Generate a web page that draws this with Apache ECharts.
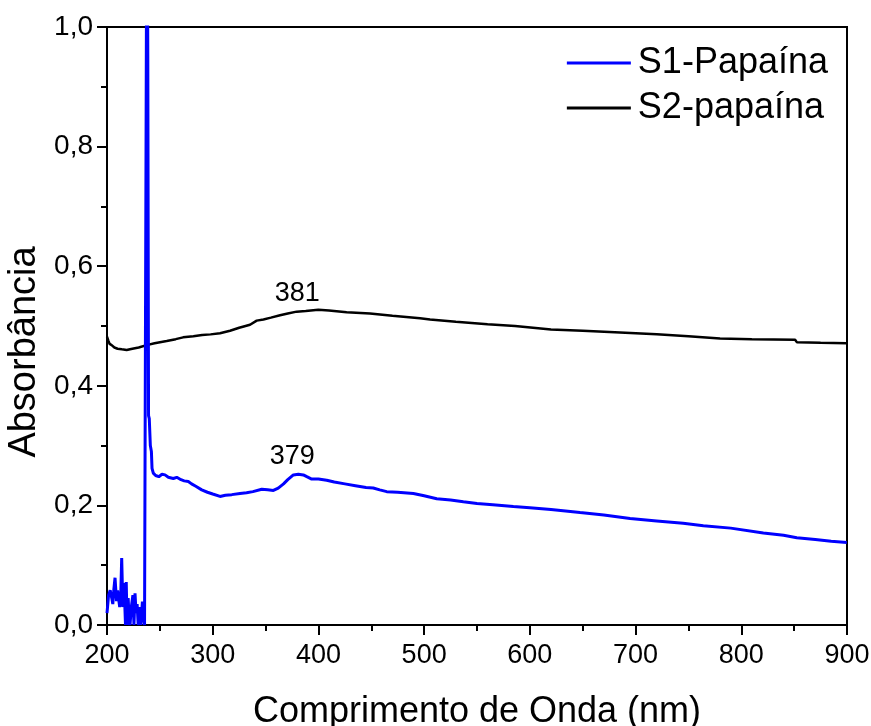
<!DOCTYPE html>
<html>
<head>
<meta charset="utf-8">
<script src="https://cdn.jsdelivr.net/npm/echarts@6/dist/echarts.min.js"></script>
<style>
html,body{margin:0;padding:0;background:#fff;}
#chart{width:871px;height:726px;}
</style>
</head>
<body>
<div id="chart"></div>
<script>
// Wavelength (nm) and absorbance for S1-Papaína
const s1X = [200,201.5,203,204.5,205.5,206.5,207.6,209,210,211,212,213,213.9,215,216,216.8,217.5,218.2,219,220,221,221.8,223,224.5,225.5,226.5,227.5,228.5,229.5,231,232,233.5,234.5,235.5,236.5,237.2,237.8,238.6,239.3,240,241,242,242.6,243.8,246,249,252,254.9,258,262.7,266,270,273,276.9,280,284,289.6,295,300,306.9,312,318,325.8,332,338,346.4,352,357.4,362,367,371,376.3,381,385.7,389,393.6,400,407.8,415,425,435,445,451.9,458,464.6,475,489.8,500,511.9,525,537.1,550,565,584.4,600,620,647.5,670,694.8,720,745,764.1,790,820.9,840,852.5,870,885,899.8];
const s1Y = [0.02,0.05,0.058,0.045,0.035,0.06,0.079,0.04,0.058,0.06,0.03,0.05,0.112,0.03,0.07,0.035,0.0,0.072,0.0,0.045,0.01,0.0,0.03,0.05,0.0,0.053,0.02,0.035,0.0,0.03,0.0,0.039,0.012,0.0,0.0,0.0,1.3,0.95,0.35,0.345,0.30,0.29,0.262,0.254,0.25,0.248,0.252,0.251,0.247,0.245,0.247,0.243,0.241,0.240,0.236,0.232,0.226,0.222,0.219,0.215,0.217,0.218,0.220,0.221,0.223,0.227,0.226,0.225,0.229,0.236,0.243,0.251,0.252,0.251,0.248,0.244,0.244,0.242,0.239,0.236,0.233,0.230,0.229,0.226,0.223,0.222,0.220,0.216,0.211,0.209,0.206,0.203,0.201,0.198,0.196,0.193,0.188,0.184,0.178,0.174,0.170,0.166,0.162,0.154,0.150,0.146,0.143,0.140,0.138];
// Wavelength (nm) and absorbance for S2-papaína
const s2X = [200,201.2,202.5,204.4,207,210,214,218.6,224,230,237.5,245,256.5,265,272,281.7,290,298,306.9,316.4,325,335.3,341.6,348,355,363.7,371,379.4,388,399.9,410,426.7,448.8,470,496.1,505.6,530,560,586,587.6,620,650,685.3,720,750,779.9,810,850.9,852.5,875,899.8];
const s2Y = [0.482,0.476,0.470,0.468,0.464,0.462,0.461,0.460,0.462,0.464,0.468,0.471,0.475,0.478,0.481,0.483,0.485,0.486,0.488,0.492,0.497,0.502,0.509,0.511,0.514,0.518,0.521,0.524,0.525,0.527,0.526,0.523,0.521,0.517,0.513,0.511,0.507,0.503,0.500,0.498,0.494,0.492,0.489,0.486,0.483,0.479,0.478,0.477,0.473,0.472,0.471];
const seriesNames = ['S1-Papaína','S2-papaína'];
const peakS1 = [379, 0.251];
const peakS2 = [381, 0.525];
const xTicks = [200,300,400,500,600,700,800,900];
const yTicks = [0.0,0.2,0.4,0.6,0.8,1.0];

const pair = (xs, ys) => xs.map((x, i) => [x, ys[i]]);
const font = 'Liberation Sans, Arial, sans-serif';

const chart = echarts.init(document.getElementById('chart'), null, {renderer: 'canvas'});
chart.setOption({
  animation: false,
  backgroundColor: '#fff',
  grid: {left: 107, right: 24, top: 27, bottom: 101, show: true, borderColor: '#000', borderWidth: 2,
    backgroundColor: 'transparent', containLabel: false, outerBoundsMode: 'none'},
  legend: {
    right: 38, top: 40, orient: 'vertical', itemGap: 9,
    itemWidth: 64, itemHeight: 3, icon: 'rect',
    textStyle: {fontFamily: font, fontSize: 36, color: '#000', padding: [0,0,0,2]},
    data: seriesNames
  },
  xAxis: {
    type: 'value', min: xTicks[0], max: xTicks[xTicks.length-1], interval: 100,
    name: 'Comprimento de Onda (nm)', nameLocation: 'middle', nameGap: 69,
    nameTextStyle: {fontFamily: font, fontSize: 36, color: '#000'},
    axisLine: {show: true, lineStyle: {color: '#000', width: 2}},
    axisTick: {show: true, inside: false, length: 10, lineStyle: {color: '#000', width: 2}},
    minorTick: {show: true, splitNumber: 2, length: 6, lineStyle: {color: '#000', width: 2}},
    axisLabel: {fontFamily: font, fontSize: 27, color: '#000', margin: 17},
    splitLine: {show: false}
  },
  yAxis: {
    type: 'value', min: yTicks[0], max: yTicks[yTicks.length-1], interval: 0.2,
    name: 'Absorbância', nameLocation: 'middle', nameGap: 60,
    nameTextStyle: {fontFamily: font, fontSize: 38, color: '#000', padding: [0, 52, 0, 0]},
    axisLine: {show: true, lineStyle: {color: '#000', width: 2}},
    axisTick: {show: true, inside: false, length: 10, lineStyle: {color: '#000', width: 2}},
    minorTick: {show: true, splitNumber: 2, length: 6, lineStyle: {color: '#000', width: 2}},
    axisLabel: {fontFamily: font, fontSize: 28, color: '#000', margin: 14,
      formatter: v => v.toFixed(1).replace('.', ',')},
    splitLine: {show: false}
  },
  series: [
    {
      name: seriesNames[0], type: 'line', data: pair(s1X, s1Y),
      showSymbol: false, symbol: 'none', clip: true,
      lineStyle: {color: '#0000ff', width: 3}, itemStyle: {color: '#0000ff'},
      markPoint: {
        symbol: 'circle', symbolSize: 0,
        data: [{coord: peakS1, value: peakS1[0]}],
        label: {show: true, position: 'top', distance: 5, offset: [-4, 0],
          formatter: String(peakS1[0]), fontFamily: font, fontSize: 27, color: '#000'}
      },
      z: 3
    },
    {
      name: seriesNames[1], type: 'line', data: pair(s2X, s2Y),
      showSymbol: false, symbol: 'none', clip: true,
      lineStyle: {color: '#000', width: 2.5}, itemStyle: {color: '#000'},
      markPoint: {
        symbol: 'circle', symbolSize: 0,
        data: [{coord: peakS2, value: peakS2[0]}],
        label: {show: true, position: 'top', distance: 4, offset: [-1, 0],
          formatter: String(peakS2[0]), fontFamily: font, fontSize: 27, color: '#000'}
      },
      z: 2
    }
  ]
});
</script>
</body>
</html>
